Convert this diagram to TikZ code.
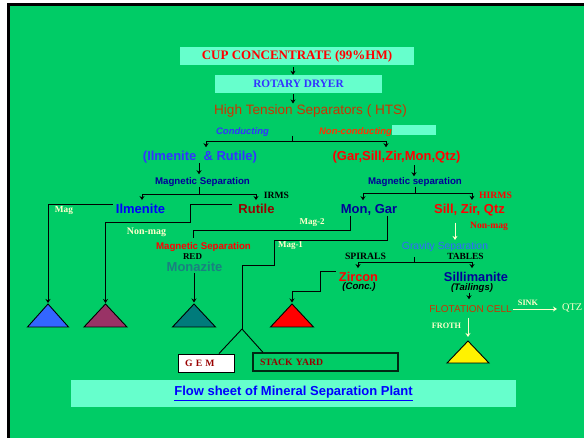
\documentclass[tikz,border=0pt]{standalone}
\usepackage{fontspec}
\setmainfont{Liberation Serif}
\newfontfamily\arialf{Liberation Sans}
\usetikzlibrary{arrows.meta}
\newcommand{\myfs}[1]{\fontsize{#1}{#1}\selectfont}
\definecolor{bg}{HTML}{00CC66}
\definecolor{lightbox}{HTML}{66FFCC}
\definecolor{cream}{HTML}{FFFFCC}
\definecolor{navy}{HTML}{000099}
\definecolor{mblue}{HTML}{3333FF}
\definecolor{rust}{HTML}{CC3300}
\definecolor{orred}{HTML}{FF3300}
\definecolor{dred}{HTML}{990000}
\definecolor{teal2}{HTML}{1A8080}
\definecolor{gblue}{HTML}{3366FF}
\definecolor{tblue}{HTML}{3366FF}
\definecolor{tpurp}{HTML}{993366}
\definecolor{tteal}{HTML}{007B7B}
\tikzset{
  sb/.style={font=\arialf\bfseries\myfs{#1}},
  sr/.style={font=\arialf\myfs{#1}},
  sbi/.style={font=\arialf\bfseries\itshape\myfs{#1}},
  tb/.style={font=\bfseries\myfs{#1}},
  tr/.style={font=\myfs{#1}},
  ln/.style={line width=0.9pt,black},
  arr/.style={ln,-{Stealth[length=4pt,width=5pt]}},
  warr/.style={line width=0.9pt,cream,-{Stealth[length=4pt,width=5pt]}},
  banner/.style={fill=lightbox,inner sep=0pt},
  tri/.style={draw=black,line width=0.9pt,line join=miter},
  every node/.style={inner sep=0pt}
}
\begin{document}
\begin{tikzpicture}[x=1pt,y=-1pt]
\useasboundingbox (0,0) rectangle (584,438);
\fill[white] (0,0) rectangle (584,438);
\fill[bg] (9,5) rectangle (584,438);
\draw[line width=2.8pt,black] (8.5,438) -- (8.5,4.7) -- (584,4.7);

% top boxes
\node[banner,minimum width=234pt,minimum height=18pt,text=red,tb=13] (cup) at (297,56) {CUP CONCENTRATE (99\%HM)};
\node[banner,minimum width=167pt,minimum height=18pt,text=mblue,tb=11.3] (rot) at (298.5,84) {ROTARY DRYER};
\node[sr=13.6,text=rust] (hts) at (310.5,111) {High Tension Separators ( HTS)};
\node[sbi=9.5,text=mblue] (cond) at (242.5,132) {Conducting};
\node[banner,minimum width=44pt,minimum height=10pt] (ncbox) at (414,130) {};
\node[sbi=9.5,text=orred] (noncond) at (355.5,132) {Non-conducting};

\node[sb=13,text=mblue] (ilrut) at (200,157) {(Ilmenite\ \ \& Rutile)};
\node[sb=13,text=red] (gar) at (396.5,157) {(Gar,Sill,Zir,Mon,Qtz)};

\node[sb=9.7,text=navy] (magL) at (202.5,182) {Magnetic Separation};
\node[sb=9.7,text=navy] (magR) at (415,182) {Magnetic separation};

\node[sb=13,text=blue] (ilm) at (140.5,209) {Ilmenite};
\node[sb=13,text=dred] (rut) at (256.5,209) {Rutile};
\node[tb=9.6] (irms) at (276.5,195) {IRMS};
\node[sb=13,text=navy] (mongar) at (369,210) {Mon, Gar};
\node[sb=13,text=red] (sillzir) at (469.5,210) {Sill, Zir, Qtz};
\node[tb=9.7,text=red] (hirms) at (495.5,195) {HIRMS};

\node[tb=9.3,text=cream] (lmag) at (64,210) {Mag};
\node[tb=9.9,text=cream] (lnonmag) at (146.5,232) {Non-mag};
\node[tb=9,text=cream] (lmag2) at (312,223) {Mag-2};
\node[tb=9,text=cream] (lmag1) at (290.5,246) {Mag-1};
\node[tb=9.6,text=red] (rnonmag) at (489,226) {Non-mag};

\node[sb=9.7,text=red] (redmag) at (203.5,247) {Magnetic Separation};
\node[tb=9] (redl) at (192.5,257) {RED};
\node[sb=13,text=teal2] (monaz) at (194.5,267) {Monazite};

\node[sr=10.4,text=gblue] (grav) at (445,247) {Gravity Separation};
\node[tb=9.7] (spir) at (365.5,256) {SPIRALS};
\node[tb=9.4] (tables) at (465.5,256) {TABLES};
\node[sb=12.8,text=red] (zirc) at (358.5,276.5) {Zircon};
\node[sbi=9.6] (conc) at (359,287.5) {(Conc.)};
\node[sb=12.8,text=navy] (sill) at (476,276.5) {Sillimanite};
\node[sbi=9.5] (tail) at (472,288) {(Tailings)};
\node[sr=10,text=rust] (flot) at (470.5,309) {FLOTATION CELL};
\node[tb=8.2,text=cream] (sink) at (528,303) {SINK};
\node[tr=10.3,text=cream,anchor=west] (qtz) at (562,308) {QTZ};
\node[tb=8.2,text=cream] (froth) at (446.5,326) {FROTH};

\node[draw=black,line width=0.9pt,fill=white,minimum height=18pt,inner xsep=7pt,text width=42pt,align=left,tb=9.7,text=dred] (gem) at (206,363) {G E M};
\node[draw=black!80!bg,line width=1.2pt,minimum height=18pt,inner xsep=7pt,text width=131pt,align=left,tb=9.7,text=dred] (stack) at (325.5,362) {STACK YARD};

\node[banner,minimum width=445pt,minimum height=27pt,sb=13,text=blue] (title) at (293.5,393.5) {\underline{Flow sheet of Mineral Separation Plant}};

% triangles
\coordinate (t1) at (48,304);
\coordinate (t2) at (105.5,304);
\coordinate (t3) at (194,304);
\coordinate (t4) at (292,304);
\coordinate (t5) at (468,341);
\filldraw[tri,fill=tblue] (t1) -- ++(-20.5,23) -- ++(41,0) -- cycle;
\filldraw[tri,fill=tpurp] (t2) -- ++(-21.5,23) -- ++(43,0) -- cycle;
\filldraw[tri,fill=tteal] (t3) -- ++(-21.5,23) -- ++(43,0) -- cycle;
\filldraw[tri,fill=red] (t4) -- ++(-21.5,23) -- ++(43,0) -- cycle;
\filldraw[tri,fill=yellow] (t5) -- ++(-21,22) -- ++(42,0) -- cycle;

% connectors
\draw[arr,shorten <=2pt] ([xshift=-4pt]cup.south) -- ([xshift=-5.5pt]rot.north);
\draw[arr,shorten <=1pt,shorten >=1pt] ([xshift=-5.5pt]rot.south) -- ([xshift=-17.5pt]hts.north);
\coordinate (hsplit) at (292,141);
\draw[ln] ([xshift=-18.5pt,yshift=-18pt]hts.south) -- (hsplit);
\draw[arr,shorten >=3.5pt] (hsplit) -| ([xshift=6pt]ilrut.north);
\draw[arr,shorten >=3.5pt] (hsplit) -| ([xshift=-10.5pt]gar.north);

\draw[arr,shorten <=0pt,shorten >=3pt] ([xshift=-1pt]ilrut.south) -- ([xshift=-3.5pt]magL.north);
\draw[arr,shorten <=2pt,shorten >=1pt] ([xshift=17.5pt]gar.south) -- ([xshift=-1pt]magR.north);

\coordinate (msL) at (199,194);
\draw[ln] ([xshift=-3.5pt]magL.south) -- (msL);
\draw[arr,shorten >=4pt] (msL) -| ([xshift=1.5pt]ilm.north);
\draw[arr,shorten >=4pt] (msL) -| ([xshift=-0.5pt]rut.north);
\coordinate (msR) at (415,193);
\draw[ln] (magR.south) -- (msR);
\draw[arr,shorten >=4pt] (msR) -| ([xshift=-6pt]mongar.north);
\draw[arr,shorten >=4pt] (msR) -| ([xshift=2.5pt]sillzir.north);

% Mag / Non-mag to triangles
\draw[arr,shorten >=1pt] ([xshift=-3pt,yshift=5pt]ilm.west) -| (t1);
\draw[arr,shorten >=1pt] ([xshift=-6pt,yshift=5pt]rut.west) -- ++(-42,0) -- ++(0,18) -| (t2);

% Mag-2 and Mag-1
\draw[ln] ([xshift=-19pt]mongar.south) -- ++(0,14.5) -| ([xshift=-10.5pt,yshift=4pt]redmag.north);
\coordinate (br) at (242,329);
\draw[ln] ([xshift=18pt]mongar.south) -- ++(0,24.5) -- ++(-113,0) -- ++(0,25) -| (br);
\draw[ln] (br) -- ([xshift=13pt]gem.north);
\draw[ln] (br) -- ([xshift=-62.5pt]stack.north);

\draw[arr,shorten <=1pt,shorten >=1.5pt] ([xshift=-0.5pt]monaz.south) -- (t3);

% right branch
\draw[warr,shorten <=6.5pt,shorten >=2pt] ([xshift=-14.5pt]sillzir.south) -- ([xshift=10pt]grav.north);
\coordinate (gs) at (414,262);
\draw[ln] ([xshift=-31pt,yshift=-5pt]grav.south) -- (gs);
\draw[arr,shorten >=3.5pt] (gs) -| ([xshift=-0.5pt]zirc.north);
\draw[arr,shorten >=3.5pt] (gs) -| ([xshift=-4pt]sill.north);
\draw[arr,shorten >=1.5pt] ([xshift=-3pt,yshift=5.5pt]zirc.west) -- ++(-15,0) -- ++(0,20) -| (t4);
\draw[arr,shorten >=6pt] ([xshift=-3pt]tail.south) -- ([xshift=-1.5pt]flot.north);
\draw[warr,shorten <=1pt,shorten >=5pt] (flot.east) -- (qtz.west |- flot.east);
\draw[warr,shorten <=5pt,shorten >=4pt] ([xshift=-2.5pt]flot.south) -- (t5);
\end{tikzpicture}
\end{document}
